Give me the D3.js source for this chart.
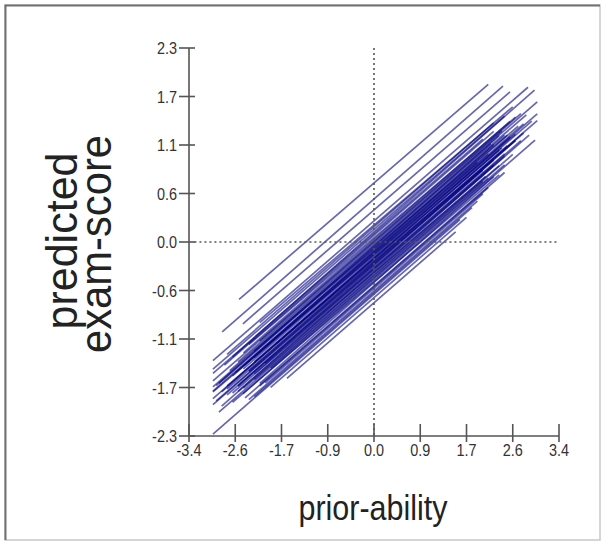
<!DOCTYPE html>
<html>
<head>
<meta charset="utf-8">
<script src="https://cdn.jsdelivr.net/npm/d3@7"></script>
<style>
html,body{margin:0;padding:0;background:#fff;}
svg{display:block;}
text{font-family:"Liberation Sans",Arial,sans-serif;}
</style>
</head>
<body>
<svg id="chart" width="607" height="546"></svg>
<script>
// ---- data: one fitted line per school ----
const intercepts = [0.70,0.51,0.38,0.25,0.20,0.15,0.12,0.08,0.05,0.01,-0.02,-0.05,-0.08,-0.11,-0.13,-0.16,-0.18,-0.20,-0.22,-0.24,-0.26,-0.28,-0.30,-0.33,-0.36,-0.39,-0.42,-0.45,-0.48,-0.52,-0.55,-0.58,-0.62,-0.66,-0.72,0.10,0.00,-0.06,-0.10,-0.15,-0.19,-0.23,-0.27,-0.31,-0.35,-0.20,-0.12,0.03,-0.40,-0.47,-0.53,0.18,-0.25,-0.08,-0.32,-0.60,-0.43,-0.14,-0.04,-0.37];
const slopes = [0.557,0.565,0.56,0.56,0.55,0.56,0.57,0.56,0.55,0.56,0.56,0.57,0.55,0.56,0.56,0.56,0.57,0.56,0.55,0.56,0.56,0.57,0.56,0.56,0.55,0.56,0.56,0.56,0.57,0.56,0.56,0.56,0.56,0.56,0.56,0.56,0.56,0.56,0.57,0.55,0.56,0.56,0.56,0.56,0.57,0.56,0.56,0.56,0.56,0.55,0.56,0.56,0.56,0.56,0.56,0.56,0.56,0.56,0.56,0.56];
const xMins = [-2.48,-2.79,-2.41,-2.96,-2.10,-2.96,-2.60,-2.75,-2.30,-2.96,-2.50,-2.85,-2.20,-2.96,-2.60,-2.40,-2.80,-2.96,-2.70,-2.30,-2.90,-2.50,-2.70,-2.20,-2.60,-2.40,-2.85,-2.41,-2.10,-2.37,-2.00,-2.30,-2.96,-1.90,-1.60,-2.96,-2.10,-2.96,-2.40,-2.96,-2.20,-2.70,-2.96,-2.50,-2.80,-1.80,-2.55,-2.40,-2.20,-2.60,-2.10,-2.70,-2.30,-2.90,-2.00,-2.20,-1.90,-2.20,-2.65,-2.50];
const xMaxs = [2.10,2.37,2.50,2.83,2.55,2.40,2.95,2.20,2.60,2.70,3.00,2.30,2.45,2.65,2.10,3.00,2.50,2.35,2.75,3.00,2.20,2.60,2.40,2.85,2.30,2.55,2.10,2.96,2.20,2.40,2.00,1.90,1.58,1.70,1.50,2.00,2.35,2.80,2.20,2.60,2.90,2.45,2.00,2.70,2.40,2.30,1.90,2.50,2.00,2.30,2.10,2.20,2.60,2.40,2.20,1.80,2.40,2.75,2.15,2.05];
const xTickLabels = ["-3.4","-2.6","-1.7","-0.9","0.0","0.9","1.7","2.6","3.4"];
const yTickLabels = ["2.3","1.7","1.1","0.6","0.0","-0.6","-1.1","-1.7","-2.3"];
const xTitle = "prior-ability";
const yTitle = ["predicted","exam-score"];

const svg = d3.select("#chart");
const x = d3.scaleLinear().domain([-3.4,3.4]).range([189,559]);
const y = d3.scaleLinear().domain([-2.3,2.3]).range([436,48]);

// frame
svg.append("rect").attr("x",5).attr("y",5).attr("width",595).attr("height",535)
  .attr("fill","#fff").attr("stroke","#c8c8c8").attr("stroke-width",1.5);
svg.append("path").attr("d","M5.5,540 L5.5,5.5 L600,5.5").attr("fill","none")
  .attr("stroke","#707070").attr("stroke-width",2);

const lines = intercepts.map((b,i)=>({b, m:slopes[i], x0:xMins[i], x1:xMaxs[i]}));
const gl = svg.append("g");
gl.selectAll("line").data(lines).join("line")
  .attr("x1",d=>x(d.x0)).attr("y1",d=>y(d.b+d.m*d.x0))
  .attr("x2",d=>x(d.x1)).attr("y2",d=>y(d.b+d.m*d.x1))
  .attr("stroke","#000080").attr("stroke-width",1.7).attr("stroke-opacity",0.6);

// reference dotted lines
svg.append("line").attr("x1",x(-3.3)).attr("x2",x(3.4)).attr("y1",y(0)).attr("y2",y(0))
  .attr("stroke","#555").attr("stroke-width",1.6).attr("stroke-dasharray","2,3");
svg.append("line").attr("x1",x(0)).attr("x2",x(0)).attr("y1",y(2.3)).attr("y2",y(-2.3))
  .attr("stroke","#555").attr("stroke-width",1.6).attr("stroke-dasharray","2,3");

// axes
const xTickVals = d3.range(9).map(i=>-3.4+i*0.85);
const yTickVals = d3.range(9).map(i=>2.3-i*0.575);
const ax = svg.append("g");
ax.append("line").attr("x1",x(-3.4)).attr("x2",x(3.4)).attr("y1",y(-2.3)).attr("y2",y(-2.3))
  .attr("stroke","#555").attr("stroke-width",1.6);
ax.append("line").attr("x1",x(-3.4)).attr("x2",x(-3.4)).attr("y1",y(2.3)).attr("y2",y(-2.3))
  .attr("stroke","#555").attr("stroke-width",1.6);
ax.selectAll(".xt").data(xTickVals).join("line").attr("class","xt")
  .attr("x1",d=>x(d)).attr("x2",d=>x(d)).attr("y1",y(-2.3)-12).attr("y2",y(-2.3)+6)
  .attr("stroke","#555").attr("stroke-width",1.6);
ax.selectAll(".yt").data(yTickVals).join("line").attr("class","yt")
  .attr("y1",d=>y(d)).attr("y2",d=>y(d)).attr("x1",x(-3.4)-10).attr("x2",x(-3.4)+6)
  .attr("stroke","#555").attr("stroke-width",1.6);
ax.selectAll(".xl").data(xTickVals).join("text").attr("class","xl")
  .attr("transform",d=>`translate(${x(d)},456) scale(0.85,1)`)
  .attr("text-anchor","middle").attr("font-size",17).attr("fill","#333")
  .text((d,i)=>xTickLabels[i]);
ax.selectAll(".yl").data(yTickVals).join("text").attr("class","yl")
  .attr("transform",d=>`translate(177,${y(d)+6}) scale(0.85,1)`)
  .attr("text-anchor","end").attr("font-size",17).attr("fill","#333")
  .text((d,i)=>yTickLabels[i]);

// titles
svg.append("text").attr("x",373).attr("y",520).attr("text-anchor","middle")
  .attr("font-size",35).attr("fill","#222")
  .attr("textLength",149).attr("lengthAdjust","spacingAndGlyphs").text(xTitle);
svg.append("text").attr("transform","translate(77,241) rotate(-90)").attr("text-anchor","middle")
  .attr("font-size",44).attr("fill","#222")
  .attr("textLength",177).attr("lengthAdjust","spacingAndGlyphs").text(yTitle[0]);
svg.append("text").attr("transform","translate(111,244) rotate(-90)").attr("text-anchor","middle")
  .attr("font-size",44).attr("fill","#222")
  .attr("textLength",218).attr("lengthAdjust","spacingAndGlyphs").text(yTitle[1]);
</script>
</body>
</html>
